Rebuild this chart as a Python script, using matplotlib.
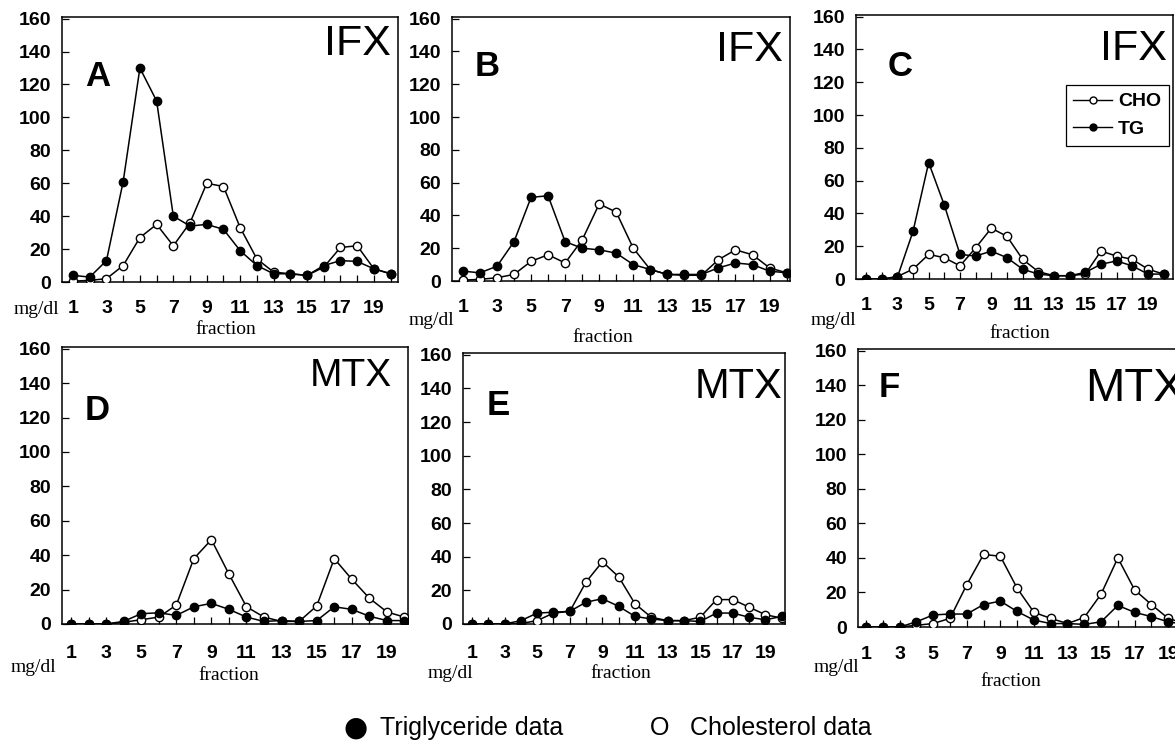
import numpy as np
import matplotlib.pyplot as plt
from matplotlib.lines import Line2D

# fraction number on the x axis
fractions = np.arange(1, 21)

# IFX panels (mg/dl)
tg_a = [4, 3, 13, 61, 130, 110, 40, 34, 35, 32, 19, 10, 5, 5, 4, 10, 13, 12.5, 8, 5]
cho_a = [0.5, 1, 2, 10, 27, 35, 22, 36, 60, 58, 33, 14, 6, 5, 4, 9, 21, 22, 8, 5]
tg_b = [6, 5, 9, 24, 51, 52, 24, 20, 19, 17, 10, 7, 4, 4, 4, 8, 11, 10, 6, 5]
cho_b = [0.5, 1, 2, 4, 12, 16, 11, 25, 47, 42, 20, 7, 4, 3.5, 3.5, 13, 19, 16, 8, 5]
tg_c = [0, 0, 1, 29, 71, 45, 15, 14, 17, 13, 6, 3, 2, 2, 4, 9, 11, 8, 3, 3]
cho_c = [0, 0, 1.5, 6, 15, 13, 8, 19, 31, 26, 12, 4.5, 2, 2, 3, 17, 14, 12, 6, 3]

# MTX panels (mg/dl)
tg_d = [0, 0, 0, 1.5, 6, 6.5, 5, 10, 12, 8.5, 4, 1.5, 2, 1.5, 2, 10, 8.5, 4.5, 2, 2]
cho_d = [0, 0, 0, 1, 2.5, 4, 11, 38, 49, 29, 10, 4, 1.5, 1.5, 10.5, 38, 26, 15, 7, 4]
tg_e = [0, 0, 0, 2, 6.5, 7, 7.5, 13, 15, 10.5, 4.5, 3, 2, 2, 1.5, 6.5, 6.5, 4, 2.5, 4.5]
cho_e = [0, 0, 0, 0.3, 2, 6.5, 7.5, 25, 37, 28, 12, 4, 2, 2, 4, 14.5, 14.5, 10, 5.5, 3.5]
tg_f = [0, 0, 0, 3, 7, 7.5, 7.5, 13, 15, 9, 4, 2, 2, 1.5, 3, 12.5, 8.5, 6, 3, 1.5]
cho_f = [0, 0, 0, 1, 2, 5, 24.5, 42, 41, 22.5, 8.5, 5, 2, 5.5, 19, 40, 21.5, 13, 5, 2]

letters = ["A", "B", "C", "D", "E", "F"]
drugs = ["IFX", "IFX", "IFX", "MTX", "MTX", "MTX"]
y_ticks = [0, 20, 40, 60, 80, 100, 120, 140, 160]
x_label_ticks = [1, 3, 5, 7, 9, 11, 13, 15, 17, 19]

W, H = 1175, 741
fig = plt.figure(figsize=(W / 100, H / 100), dpi=100)

sans = "Liberation Sans"
serif = "Liberation Serif"


def px_axes(left, top, right, bottom):
    return fig.add_axes([left / W, 1 - bottom / H, (right - left) / W, (bottom - top) / H])


def px_text(x, y, s, **kw):
    fig.text(x / W, 1 - y / H, s, **kw)


# layout per panel: axes box in pixels, x limits, x tick label pad,
# letter centre, drug label centre, mg/dl centre, fraction centre
layout = [
    dict(box=(62, 17, 398, 282), xlim=(0.34, 20.44), pad=13,
         let=(98, 76), drug=(357, 44), mg=(36, 309), fr=(226, 329), dsize=31),
    dict(box=(452, 17, 790, 281), xlim=(0.36, 20.2), pad=13,
         let=(487, 66), drug=(749, 50), mg=(431, 320), fr=(603, 337), dsize=31),
    dict(box=(856, 15, 1173, 279), xlim=(0.36, 20.6), pad=13,
         let=(900, 67), drug=(1133, 49), mg=(833, 320), fr=(1020, 334), dsize=31),
    dict(box=(62, 347, 408, 624), xlim=(0.49, 20.2), pad=15,
         let=(97, 411), drug=(351, 376), mg=(33, 668), fr=(229, 675), dsize=28),
    dict(box=(463, 353, 785, 624), xlim=(0.45, 20.2), pad=15,
         let=(498, 405), drug=(738, 387), mg=(450, 673), fr=(621, 673), dsize=30),
    dict(box=(858, 349, 1190, 627), xlim=(0.52, 20.3), pad=14,
         let=(889, 388), drug=(1135, 389), mg=(836, 668), fr=(1011, 681), dsize=34),
]

series = [(tg_a, cho_a), (tg_b, cho_b), (tg_c, cho_c),
          (tg_d, cho_d), (tg_e, cho_e), (tg_f, cho_f)]

for i, (tg, cho) in enumerate(series):
    lay = layout[i]
    ax = px_axes(*lay["box"])
    ax.plot(fractions, cho, "-o", color="black", lw=1.1, ms=6,
            mfc="white", mec="black", mew=1.0, zorder=3)
    ax.plot(fractions, tg, "-o", color="black", lw=1.1, ms=6,
            mfc="black", mec="black", zorder=4)
    ax.set_xlim(*lay["xlim"])
    ax.set_ylim(0, 161)
    ax.set_xticks(x_label_ticks)
    ax.set_xticks(fractions, minor=True)
    ax.set_yticks(y_ticks)
    ax.tick_params(axis="x", which="both", direction="in", length=5, width=0.9,
                   pad=lay["pad"], labelsize=14)
    ax.tick_params(axis="y", direction="in", length=5, width=0.9, pad=8, labelsize=14)
    for lab in ax.get_xticklabels() + ax.get_yticklabels():
        lab.set_fontfamily(sans)
        lab.set_fontweight("bold")
    for sp in ax.spines.values():
        sp.set_linewidth(1.1)

    px_text(*lay["let"], letters[i], fontsize=25, fontweight="bold", family=sans,
            ha="center", va="center")
    px_text(*lay["drug"], drugs[i], fontsize=lay["dsize"], family=sans,
            ha="center", va="center")
    px_text(*lay["mg"], "mg/dl", fontsize=14, family=serif, ha="center", va="center")
    px_text(*lay["fr"], "fraction", fontsize=14, family=serif, ha="center", va="center")

    if i == 2:
        handles = [
            Line2D([], [], color="black", lw=1.0, marker="o", ms=5, mfc="white", mec="black"),
            Line2D([], [], color="black", lw=1.0, marker="o", ms=5, mfc="black"),
        ]
        leg = ax.legend(handles, ["CHO", "TG"], loc="upper right",
                        bbox_to_anchor=(1169 / W, 1 - 85 / H), bbox_transform=fig.transFigure,
                        frameon=True, fancybox=False, framealpha=1, edgecolor="black",
                        handlelength=2.0, handletextpad=0.3, borderpad=0.4,
                        labelspacing=0.5, borderaxespad=0,
                        prop={"family": sans, "weight": "bold", "size": 14})
        leg.get_frame().set_linewidth(0.9)

# key at the bottom
px_text(356, 728, "\u25CF", fontsize=20, family="DejaVu Sans", ha="center", va="center")
px_text(380, 728, "Triglyceride data", fontsize=18, family=sans, ha="left", va="center")
px_text(660, 728, "O", fontsize=18, family=sans, ha="center", va="center")
px_text(690, 728, "Cholesterol data", fontsize=18, family=sans, ha="left", va="center")

fig.savefig("out.png", dpi=100)
